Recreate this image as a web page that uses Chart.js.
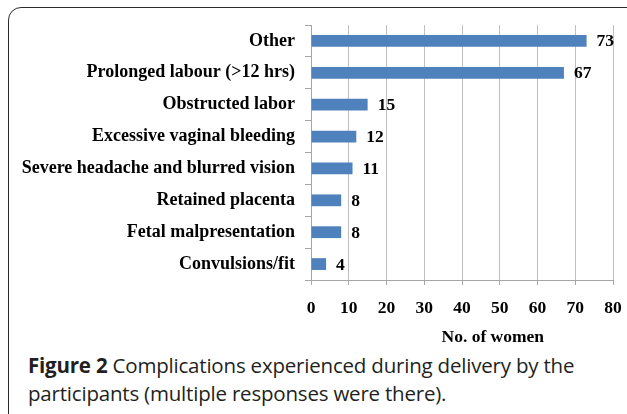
<!DOCTYPE html>
<html>
<head>
<meta charset="utf-8">
<script src="https://cdn.jsdelivr.net/npm/chart.js@4.4.0/dist/chart.umd.min.js"></script>
<style>
  html, body { margin: 0; padding: 0; background: #fff; }
  body { width: 627px; height: 414px; position: relative; overflow: hidden; }
  #frame { position: absolute; left: 8px; top: 7px; width: 640px; height: 420px;
           border: 1.6px solid #2b2b2b; border-radius: 13px; box-sizing: border-box; }
  #wrap { position: absolute; left: 0; top: 0; width: 627px; height: 350px; }
  #caption { position: absolute; left: 28px; top: 351px; width: 595px;
             font-family: "Open Sans", "Noto Sans", sans-serif; font-size: 20.5px;
             line-height: 28px; color: #231f20; letter-spacing: -0.2px; }
  #caption b { font-weight: 700; }
</style>
</head>
<body>
<div id="frame"></div>
<div id="wrap"><canvas id="c" width="627" height="350"></canvas></div>
<div id="caption"><b>Figure 2</b> Complications experienced during delivery by the<br>participants (multiple responses were there).</div>
<script>
const categories = [
  "Other",
  "Prolonged labour (>12 hrs)",
  "Obstructed labor",
  "Excessive vaginal bleeding",
  "Severe headache and blurred vision",
  "Retained placenta",
  "Fetal malpresentation",
  "Convulsions/fit"
];
const values = [73, 67, 15, 12, 11, 8, 8, 4];
const xTicks = [0, 10, 20, 30, 40, 50, 60, 70, 80];
const axisTitle = "No. of women";

const FONT_FAMILY = '"Liberation Serif", "Times New Roman", serif';
const serifBold = { family: FONT_FAMILY, weight: 'bold', size: 18 };

const valueLabels = {
  id: 'valueLabels',
  afterDatasetsDraw(chart) {
    const ctx = chart.ctx;
    const meta = chart.getDatasetMeta(0);
    ctx.save();
    ctx.font = 'bold 17.5px ' + FONT_FAMILY;
    ctx.fillStyle = '#000';
    ctx.textAlign = 'left';
    ctx.textBaseline = 'middle';
    meta.data.forEach((bar, i) => {
      ctx.fillText(String(values[i]), bar.x + 10, bar.y + 1);
    });
    ctx.restore();
  }
};

const xTitle = {
  id: 'xTitle',
  afterDraw(chart) {
    const ctx = chart.ctx;
    const a = chart.chartArea;
    ctx.save();
    ctx.font = 'bold 17.5px ' + FONT_FAMILY;
    ctx.fillStyle = '#000';
    ctx.textAlign = 'center';
    ctx.textBaseline = 'alphabetic';
    ctx.fillText(axisTitle, a.left + (a.right - a.left) * 0.602, 342);
    ctx.restore();
  }
};

new Chart(document.getElementById('c'), {
  type: 'bar',
  data: {
    labels: categories,
    datasets: [{
      data: values,
      backgroundColor: '#4f81bd',
      borderWidth: 0,
      categoryPercentage: 1.0,
      barPercentage: 0.37
    }]
  },
  options: {
    indexAxis: 'y',
    responsive: false,
    animation: false,
    layout: { padding: { top: 25, right: 14, left: 0, bottom: 0 } },
    plugins: { legend: { display: false }, tooltip: { enabled: false } },
    scales: {
      x: {
        min: 0, max: 80,
        afterBuildTicks(scale) { scale.ticks = xTicks.map(v => ({ value: v })); },
        afterFit(scale) { scale.height = 70; scale.paddingLeft = 0; scale.paddingRight = 0; },
        grid: { color: '#bfbfbf', lineWidth: 1, tickLength: 5, tickColor: '#a6a6a6', drawOnChartArea: true },
        border: { color: '#a6a6a6', width: 1 },
        ticks: { color: '#000', font: { family: FONT_FAMILY, weight: 'bold', size: 17.5 }, padding: 13, maxRotation: 0 }
      },
      y: {
        afterFit(scale) { scale.width = 311; scale.paddingTop = 0; scale.paddingBottom = 0; },
        grid: { drawOnChartArea: false, tickLength: 6, color: '#a6a6a6', offset: true },
        border: { color: '#a6a6a6', width: 1 },
        ticks: { color: '#000', font: serifBold, padding: 10, autoSkip: false }
      }
    }
  },
  plugins: [valueLabels, xTitle]
});
</script>
</body>
</html>
